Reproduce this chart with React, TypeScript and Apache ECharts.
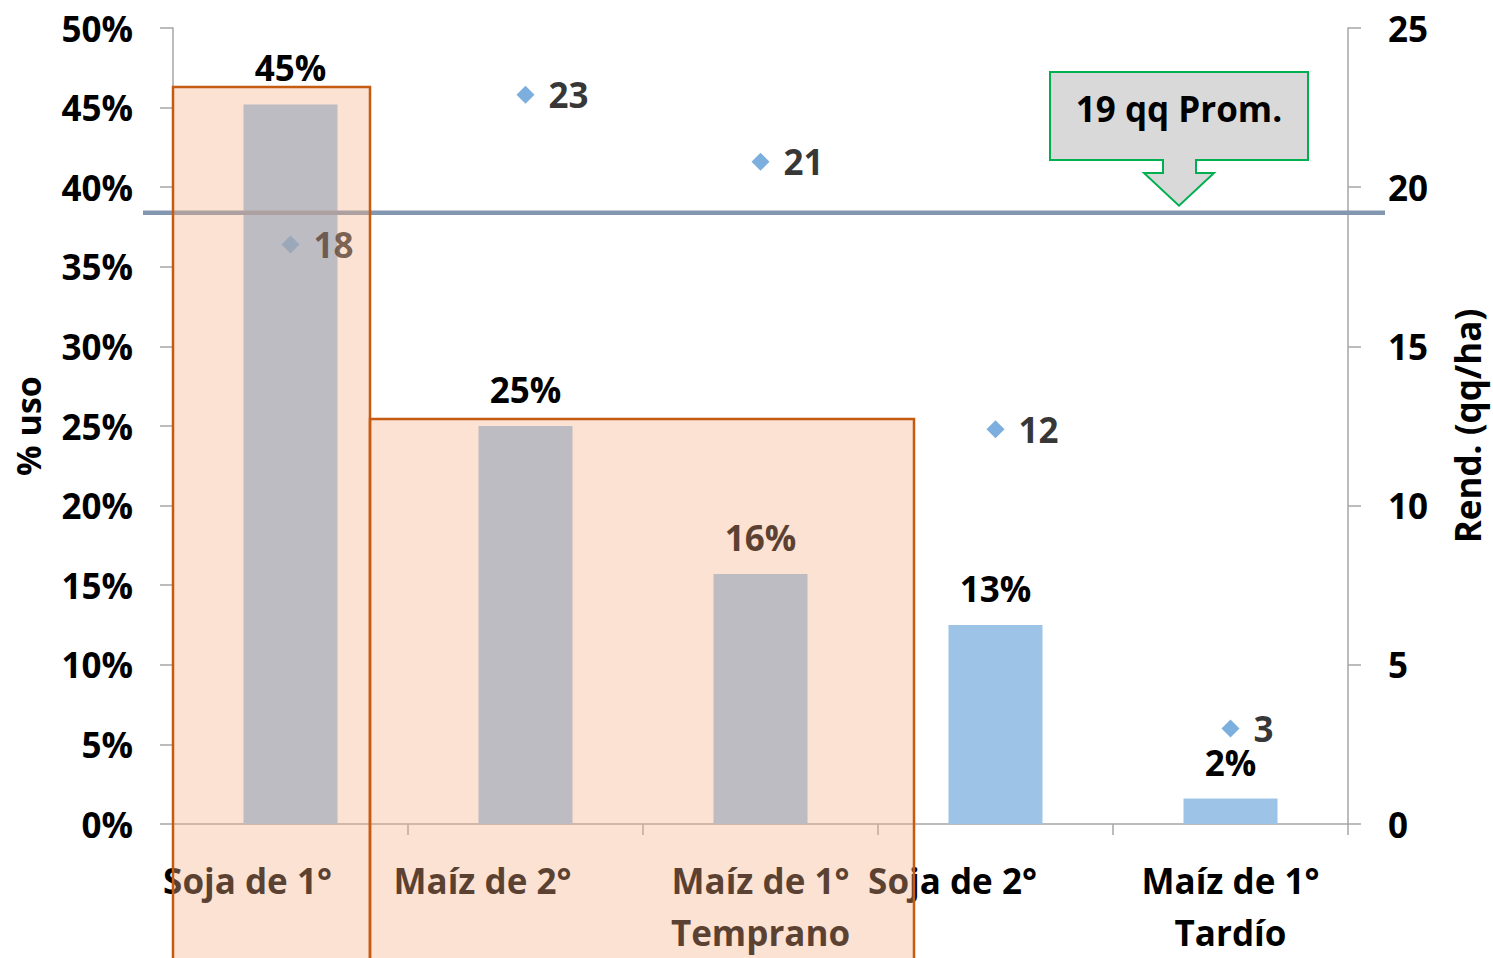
import React, { useEffect, useRef } from "react";
import * as echarts from "echarts";

const categories = ["Soja de 1°", "Maíz de 2°", "Maíz de 1°\nTemprano", "Soja de 2°", "Maíz de 1°\nTardío"];
const usoPct = [45.2, 25.0, 15.7, 12.5, 1.6];
const rendimiento = [18.2, 22.9, 20.8, 12.4, 3.0];
const promedio = 19.2;
const leftTicks = { min: 0, max: 50, interval: 5 };
const rightTicks = { min: 0, max: 25, interval: 5 };
const calloutText = "19 qq Prom.";

const FONT = "Open Sans";

export default function App() {
  const ref = useRef<HTMLDivElement>(null);
  useEffect(() => {
    if (!ref.current) return;
    const chart = echarts.init(ref.current, null, { renderer: "svg" });
    const axisColor = "#A6A6A6";
    const txt = { fontFamily: FONT, fontWeight: "bold" as const, fontSize: 35, color: "#000" };
    chart.setOption({
      animation: false,
      grid: { left: 173, right: 145, top: 28, bottom: 131 },
      xAxis: {
        type: "category",
        data: categories,
        axisLine: { lineStyle: { color: axisColor, width: 1.5 } },
        axisTick: { show: true, length: 11, lineStyle: { color: axisColor, width: 1.5 } },
        axisLabel: {
          ...txt,
          margin: 30,
          lineHeight: 52,
          interval: 0,
          formatter: (v: string) => (v.indexOf("\n") >= 0 ? v : "{s|" + v + "}"),
          rich: { s: { ...txt, lineHeight: 52, padding: [0, 86, 0, 0] } },
        },
      },
      yAxis: [
        {
          type: "value",
          ...leftTicks,
          name: "% uso",
          nameLocation: "middle",
          nameRotate: 90,
          nameGap: 128,
          nameTextStyle: { ...txt, fontSize: 34 },
          axisLine: { show: true, lineStyle: { color: axisColor, width: 1.5 } },
          axisTick: { show: true, length: 13, lineStyle: { color: axisColor, width: 1.5 } },
          axisLabel: { ...txt, margin: 40, formatter: "{value}%" },
          splitLine: { show: false },
        },
        {
          type: "value",
          ...rightTicks,
          position: "right",
          name: "Rend. (qq/ha)",
          nameLocation: "middle",
          nameRotate: 90,
          nameGap: 102,
          nameTextStyle: { ...txt, fontSize: 35 },
          axisLine: { show: true, lineStyle: { color: axisColor, width: 1.5 } },
          axisTick: { show: true, length: 13, lineStyle: { color: axisColor, width: 1.5 } },
          axisLabel: { ...txt, margin: 40 },
          splitLine: { show: false },
        },
      ],
      series: [
        {
          type: "bar",
          data: usoPct,
          barWidth: 94,
          itemStyle: { color: "#9DC3E6" },
          label: {
            show: true,
            position: "top",
            distance: 19,
            ...txt,
            formatter: (p: any) => Math.round(p.value) + "%",
          },
          z: 2,
        },
        {
          type: "scatter",
          yAxisIndex: 1,
          data: rendimiento,
          symbol: "diamond",
          symbolSize: 18,
          itemStyle: { color: "#5B9BD5" },
          label: {
            show: true,
            position: "right",
            distance: 14,
            ...txt,
            formatter: (p: any) => String(Math.round(p.value)),
          },
          z: 3,
        },
      ],
    });

    const yAvg = chart.convertToPixel({ yAxisIndex: 1 }, promedio) as number;
    const tipY = yAvg - 7;
    chart.setOption({
      graphic: [
        {
          type: "line",
          z: 50,
          shape: { x1: 143, y1: yAvg, x2: 1385, y2: yAvg },
          style: { stroke: "#8497B0", lineWidth: 4.5 },
        },
        {
          type: "polygon",
          z: 60,
          shape: {
            points: [
              [1050, 72], [1308, 72], [1308, 160], [1196, 160], [1196, 173], [1214, 173],
              [1179, tipY], [1144, 173], [1163, 173], [1163, 160], [1050, 160],
            ],
          },
          style: { fill: "#D9D9D9", stroke: "#00B050", lineWidth: 2 },
        },
        {
          type: "text",
          z: 61,
          x: 1179,
          y: 108,
          style: {
            text: calloutText,
            font: `bold 35px ${FONT}`,
            fill: "#000",
            align: "center",
            verticalAlign: "middle",
          },
        },
        {
          type: "rect",
          z: 100,
          shape: { x: 173, y: 87, width: 197, height: 900 },
          style: { fill: "rgba(244,176,135,0.37)", stroke: "#C55A11", lineWidth: 2.5 },
        },
        {
          type: "rect",
          z: 100,
          shape: { x: 370, y: 419, width: 544, height: 600 },
          style: { fill: "rgba(244,176,135,0.37)", stroke: "#C55A11", lineWidth: 2.5 },
        },
      ],
    });
    return () => chart.dispose();
  }, []);
  return (
    <div
      ref={ref}
      style={{ position: "fixed", left: 0, top: 0, width: 1493, height: 958, background: "#fff" }}
    />
  );
}
